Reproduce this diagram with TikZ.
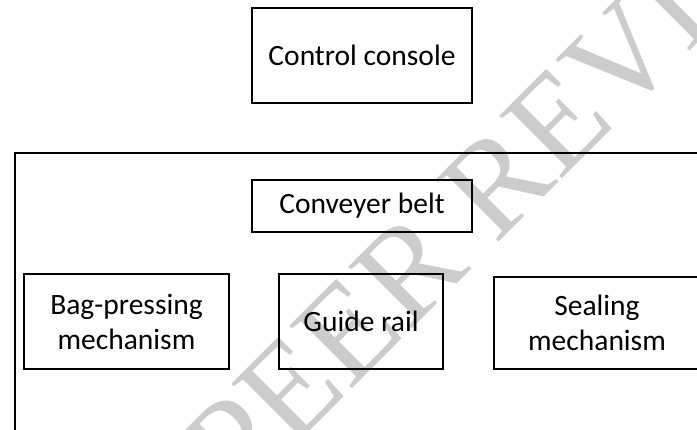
\documentclass[tikz,border=0pt]{standalone}
\usepackage{fontspec}
\setmainfont{Carlito}
\newfontfamily\wmfont{Liberation Serif}
\begin{document}
\begin{tikzpicture}[x=1pt,y=-1pt,
  box/.style={draw=black, line width=1.8pt, inner sep=0pt, align=center,
    font=\fontsize{29.5}{35}\selectfont},
  watermark/.style={text=black!20, font=\wmfont\fontsize{135}{135}\selectfont, inner sep=0pt}]
\useasboundingbox (0,0) rectangle (697,429);
% watermark
\node[watermark, rotate=45] (wm) at (522,158) {PEER REVIEW};
% top box
\node[box, minimum width=220pt, minimum height=95pt] (console) at (362,55.5) {Control console};
% outer frame (cut off at right and bottom)
\node[draw=black, line width=1.8pt, minimum width=720pt, minimum height=320pt, anchor=north west, inner sep=0pt] (frame) at (14,152) {};
\node[box, minimum width=220pt, minimum height=52pt] (belt) at (362,206) {Conveyer belt};
\node[box, minimum width=205pt, minimum height=95pt] (bag) at (126.5,321.5) {Bag-pressing\\mechanism};
\node[box, minimum width=164pt, minimum height=95pt] (rail) at (361,321.5) {Guide rail};
\node[box, minimum width=206pt, minimum height=92pt] (seal) at (597,323) {Sealing\\mechanism};
\end{tikzpicture}
\end{document}
